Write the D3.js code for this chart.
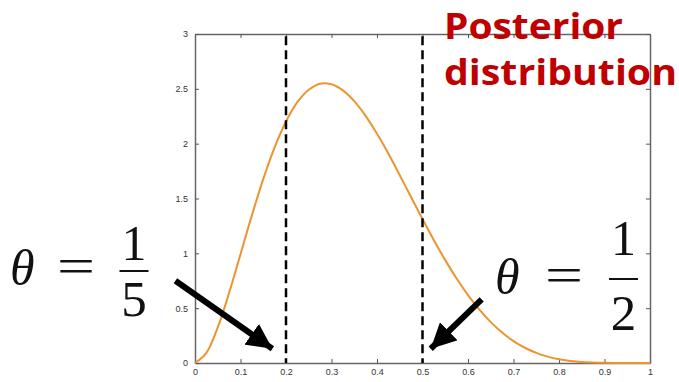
<!DOCTYPE html>
<html><head><meta charset="utf-8">
<script src="https://cdn.jsdelivr.net/npm/d3@7"></script>
<style>body{margin:0;background:#fff}svg{display:block}</style>
</head><body>
<script>
const thetaValues = [0,0.025,0.05,0.075,0.1,0.125,0.15,0.175,0.2,0.225,0.25,0.275,0.3,0.325,0.35,0.375,0.4,0.425,0.45,0.475,0.5,0.525,0.55,0.575,0.6,0.625,0.65,0.675,0.7,0.725,0.75,0.775,0.8,0.825,0.85,0.875,0.9,0.925,0.95,0.975,1];
const density = [0,0.093,0.325,0.640,0.992,1.346,1.677,1.966,2.202,2.378,2.492,2.547,2.541,2.486,2.388,2.253,2.090,1.910,1.712,1.512,1.313,1.120,0.938,0.770,0.619,0.487,0.373,0.278,0.200,0.139,0.092,0.058,0.034,0.019,0.009,0.004,0.0014,0.0003,0.0001,0,0];
const xTicks = [0,0.1,0.2,0.3,0.4,0.5,0.6,0.7,0.8,0.9,1];
const yTicks = [0,0.5,1,1.5,2,2.5,3];
const markers = [0.2,0.5];
const title = ["Posterior","distribution"];
const fractionDenominators = ["5","2"];

const W=679,H=382;
const svg=d3.select("body").append("svg").attr("width",W).attr("height",H);
const x=d3.scaleLinear().domain([0,1]).range([195,650]);
const y=d3.scaleLinear().domain([0,3]).range([363,34]);

const fmt=d=>String(d);
const axStyle=g=>{g.select(".domain").attr("stroke","#666").attr("stroke-width",1.5);
  g.selectAll(".tick line").attr("stroke","#555");
  g.selectAll(".tick text").attr("fill","#333").style("font-family","Liberation Sans, Arial, sans-serif").style("font-size","9px");};

svg.append("g").attr("transform",`translate(0,${y(0)})`)
  .call(d3.axisBottom(x).tickValues(xTicks).tickFormat(fmt).tickSize(-4).tickSizeOuter(0).tickPadding(6)).call(axStyle);
svg.append("g").attr("transform",`translate(0,${y(3)})`)
  .call(d3.axisTop(x).tickValues(xTicks).tickFormat("").tickSize(-4).tickSizeOuter(0)).call(axStyle);
svg.append("g").attr("transform",`translate(${x(0)},0)`)
  .call(d3.axisLeft(y).tickValues(yTicks).tickFormat(fmt).tickSize(-4).tickSizeOuter(0).tickPadding(7)).call(axStyle);
svg.append("g").attr("transform",`translate(${x(1)},0)`)
  .call(d3.axisRight(y).tickValues(yTicks).tickFormat("").tickSize(-4).tickSizeOuter(0)).call(axStyle);

const pts=thetaValues.map((t,i)=>[t,density[i]]);
svg.append("path").datum(pts)
  .attr("d",d3.line().x(d=>x(d[0])).y(d=>y(Math.max(0,d[1]))).curve(d3.curveCatmullRom.alpha(0.5)))
  .attr("fill","none").attr("stroke","#ea9530").attr("stroke-width",2);

svg.selectAll(".mk").data(markers).join("line")
  .attr("x1",d=>x(d)).attr("x2",d=>x(d)).attr("y1",y(2.98)).attr("y2",y(0))
  .attr("stroke","#000").attr("stroke-width",2.5).attr("stroke-dasharray","9,5");

// arrows (anchors in data units)
const defs=svg.append("defs");
defs.append("marker").attr("id","ah").attr("viewBox","0 0 10 10").attr("refX",10).attr("refY",5)
  .attr("markerWidth",4.2).attr("markerHeight",4.2).attr("markerUnits","strokeWidth").attr("orient","auto")
  .append("path").attr("d","M0,0 L10,5 L0,10 z").attr("fill","#000");
const arrows=[{x1:-0.043,y1:0.75,x2:0.17,y2:0.13},{x1:0.63,y1:0.58,x2:0.518,y2:0.13}];
svg.selectAll(".ar").data(arrows).join("line")
  .attr("x1",d=>x(d.x1)).attr("y1",d=>y(d.y1)).attr("x2",d=>x(d.x2)).attr("y2",d=>y(d.y2))
  .attr("stroke","#000").attr("stroke-width",6).attr("marker-end","url(#ah)");

// theta labels
function thetaLabel(p,den){
  const g=svg.append("g").style("font-family","Liberation Serif, DejaVu Serif, serif").attr("fill","#111");
  g.append("text").attr("x",p.tx).attr("y",p.tb).style("font-size","50px").style("font-style","italic").text("θ");
  g.append("text").attr("x",p.ex).attr("y",p.eb).style("font-size","50px")
    .attr("textLength",38).attr("lengthAdjust","spacingAndGlyphs").text("=");
  g.append("text").attr("x",p.fx).attr("y",p.nb).attr("text-anchor","middle").style("font-size","50px").text("1");
  g.append("rect").attr("x",p.fx-14.5).attr("y",p.by-1).attr("width",29).attr("height",2);
  g.append("text").attr("x",p.fx).attr("y",p.db).attr("text-anchor","middle").style("font-size","51px").text(den);
}
thetaLabel({tx:10,tb:285,ex:57,eb:283,fx:134,by:271,nb:260,db:316},fractionDenominators[0]);
thetaLabel({tx:495,tb:294,ex:545,eb:292,fx:623.5,by:279,nb:255,db:330},fractionDenominators[1]);

svg.append("g").selectAll("text").data(title).join("text")
  .attr("x",444).attr("y",(d,i)=>39+i*46)
  .attr("textLength",(d,i)=>i===0?179:233).attr("lengthAdjust","spacingAndGlyphs")
  .style("font-family","Open Sans, Noto Sans, sans-serif").style("font-weight","bold").style("font-size","36px")
  .attr("fill","#c00000").text(d=>d);
</script>
</body></html>
